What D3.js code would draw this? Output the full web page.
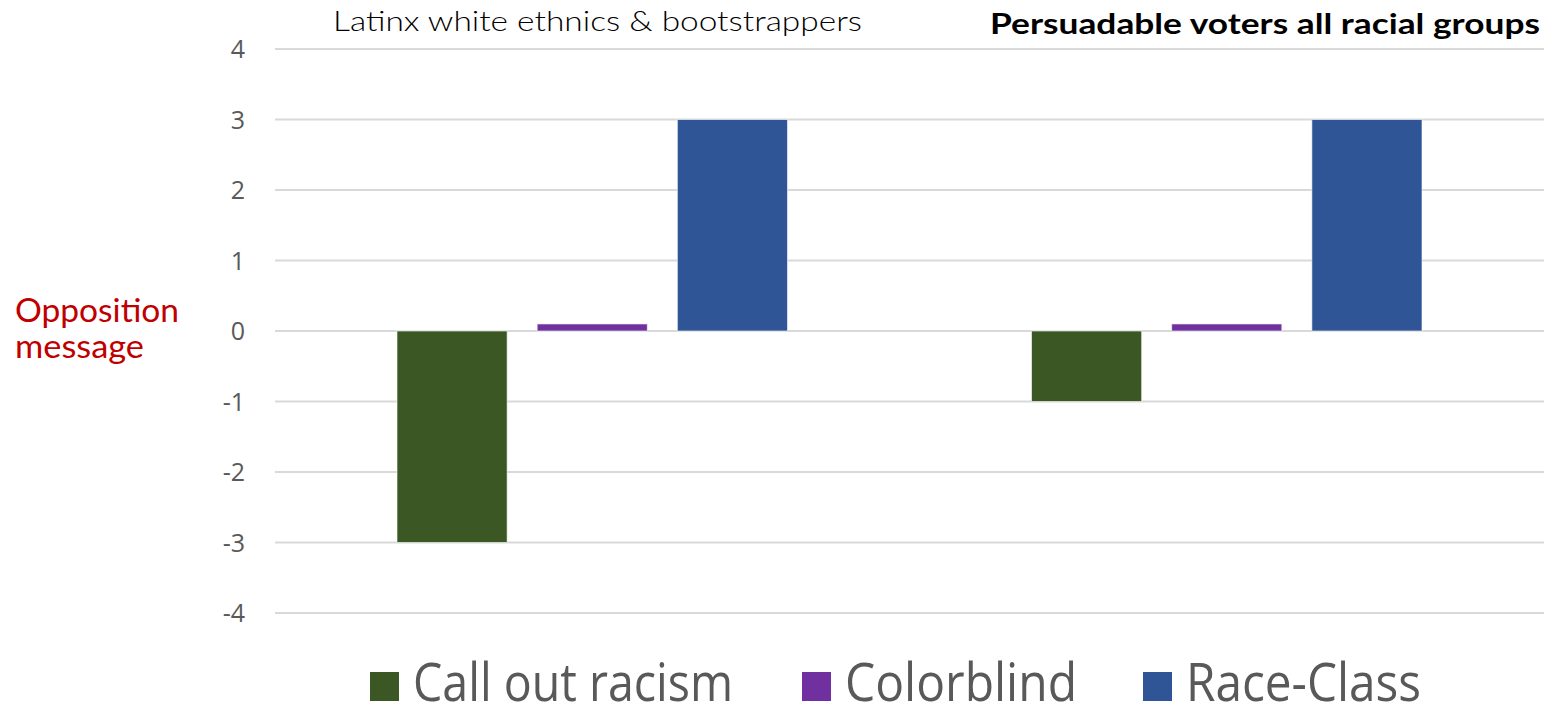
<!DOCTYPE html>
<html>
<head>
<meta charset="utf-8">
<script src="https://cdn.jsdelivr.net/npm/d3@7"></script>
<style>
  html, body { margin: 0; padding: 0; background: #fff; }
  svg { display: block; }
</style>
</head>
<body>
<svg id="chart" width="1548" height="705"></svg>
<script>
// Chart data
const groups = ["Latinx white ethnics & bootstrappers", "Persuadable voters all racial groups"];
const series = ["Call out racism", "Colorblind", "Race-Class"];
const callOutRacism = [-3, -1];
const colorblind = [0.1, 0.1];
const raceClass = [3, 3];
const yTicks = [4, 3, 2, 1, 0, -1, -2, -3, -4];
const seriesColors = ["#3B5724", "#7030A0", "#2F5597"];

const values = [callOutRacism, colorblind, raceClass];

const svg = d3.select("#chart");
const margin = { left: 275, right: 4, top: 49, bottom: 92 };
const width = 1548, height = 705;

const x0 = d3.scaleBand().domain(groups).range([margin.left, width - margin.right]).padding(0);
const x1 = d3.scaleBand().domain(series)
  .range([122, x0.bandwidth() - 122]).paddingInner(30 / 140).paddingOuter(0);
const y = d3.scaleLinear().domain([-4, 4]).range([height - margin.bottom, margin.top]);

// Gridlines
svg.append("g")
  .selectAll("line")
  .data(yTicks)
  .join("line")
  .attr("x1", margin.left)
  .attr("x2", width - margin.right)
  .attr("y1", d => y(d))
  .attr("y2", d => y(d))
  .attr("stroke", "#d9d9d9")
  .attr("stroke-width", 2);

// Y axis labels (plain hyphen for negatives)
const yAxis = d3.axisLeft(y).tickValues(yTicks).tickSize(0).tickPadding(0).tickFormat(d => String(d));
const yAxisG = svg.append("g")
  .attr("transform", `translate(${margin.left - 30},0)`)
  .call(yAxis);
yAxisG.select(".domain").remove();
yAxisG.selectAll("text")
  .attr("fill", "#595959")
  .attr("font-family", "'Open Sans', 'Noto Sans', sans-serif")
  .attr("font-size", 25)
  .attr("dy", "0.35em");

// Bars
const barData = [];
groups.forEach((g, gi) => {
  series.forEach((s, si) => {
    barData.push({ group: g, series: s, value: values[si][gi], color: seriesColors[si] });
  });
});
svg.append("g")
  .selectAll("rect")
  .data(barData)
  .join("rect")
  .attr("x", d => x0(d.group) + x1(d.series))
  .attr("width", x1.bandwidth())
  .attr("y", d => y(Math.max(0, d.value)))
  .attr("height", d => Math.abs(y(d.value) - y(0)))
  .attr("fill", d => d.color)
  .attr("stroke", "#ffffff")
  .attr("stroke-opacity", 0.6)
  .attr("stroke-width", 1);

// Group headers
svg.append("text")
  .attr("x", 333).attr("y", 31)
  .attr("font-family", "Lato, 'Open Sans', sans-serif")
  .attr("font-weight", 300)
  .attr("font-size", 28)
  .attr("fill", "#000")
  .attr("textLength", 529)
  .attr("lengthAdjust", "spacingAndGlyphs")
  .text(groups[0]);

svg.append("text")
  .attr("x", 990).attr("y", 34)
  .attr("font-family", "Lato, 'Open Sans', sans-serif")
  .attr("font-weight", 700)
  .attr("font-size", 28)
  .attr("fill", "#000")
  .attr("textLength", 550)
  .attr("lengthAdjust", "spacingAndGlyphs")
  .text(groups[1]);

// Y axis title
const yTitle = svg.append("text")
  .attr("font-family", "Lato, 'Open Sans', sans-serif")
  .attr("font-size", 32)
  .attr("fill", "#C00000");
yTitle.append("tspan").attr("x", 15).attr("y", 322)
  .attr("textLength", 164).attr("lengthAdjust", "spacingAndGlyphs").text("Opposition");
yTitle.append("tspan").attr("x", 15).attr("y", 358)
  .attr("textLength", 129).attr("lengthAdjust", "spacingAndGlyphs").text("message");

// Legend
const legendX = [370, 802, 1143];
const legendW = [320, 232, 235];
const legend = svg.append("g")
  .selectAll("g")
  .data(series)
  .join("g")
  .attr("transform", (d, i) => `translate(${legendX[i]},0)`);
legend.append("rect")
  .attr("x", 0).attr("y", 672)
  .attr("width", 29).attr("height", 29)
  .attr("fill", (d, i) => seriesColors[i]);
legend.append("text")
  .attr("x", 43).attr("y", 701)
  .attr("font-family", "'Liberation Sans Narrow', 'Open Sans', sans-serif")
  .attr("font-size", 53)
  .attr("fill", "#595959")
  .attr("textLength", (d, i) => legendW[i])
  .attr("lengthAdjust", "spacingAndGlyphs")
  .text(d => d);
</script>
</body>
</html>
